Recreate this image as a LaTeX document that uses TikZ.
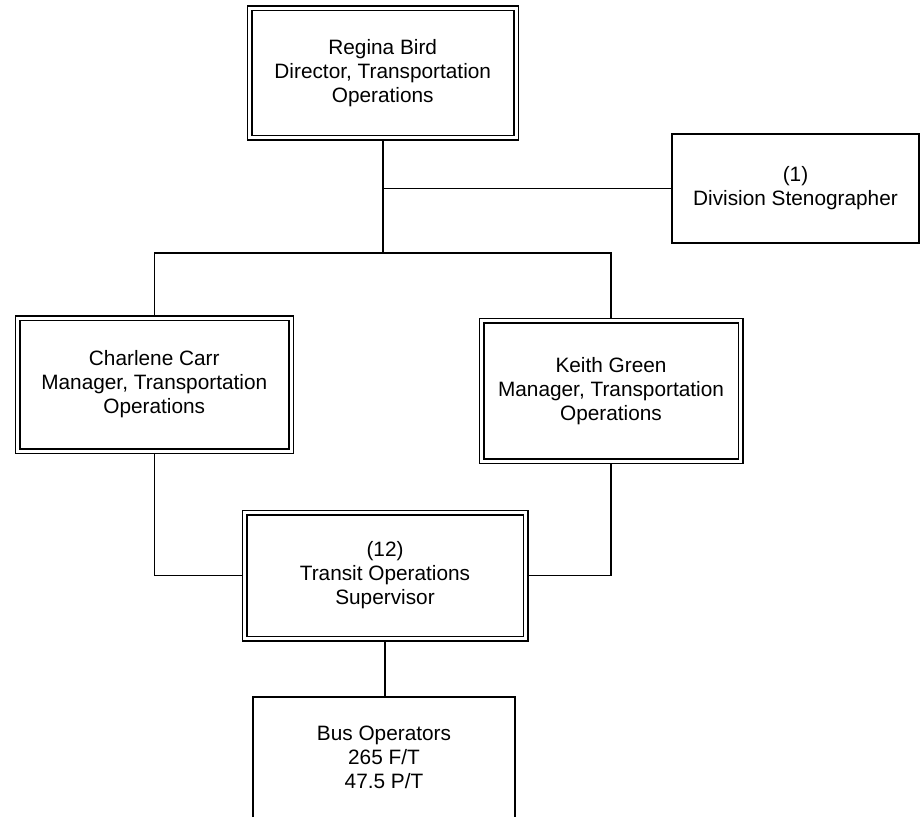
\documentclass[tikz,border=0pt]{standalone}
\usepackage{fontspec}
\setmainfont{Liberation Sans}
\usetikzlibrary{calc}
\begin{document}
\begin{tikzpicture}[x=1pt,y=-1pt,
  txt/.style={align=center,font=\fontsize{20.8}{24}\selectfont,inner sep=0pt},
  dbox/.style={txt,draw,double,double distance=3pt,line width=1.5pt,outer sep=3pt},
  sbox/.style={txt,draw,line width=1.5pt,outer sep=0.75pt},
  conn/.style={line width=1.5pt}]
\useasboundingbox (0,0) rectangle (921,817);
\node[dbox,minimum width=266.5pt,minimum height=129.5pt] (top) at (382.75,72.75)
  {Regina Bird\\Director, Transportation\\Operations};
\node[sbox,minimum width=247pt,minimum height=109pt] (steno) at (795.5,188.5)
  {(1)\\Division Stenographer};
\node[dbox,minimum width=273.5pt,minimum height=133pt] (charlene) at (154.25,384.5)
  {Charlene Carr\\Manager, Transportation\\Operations};
\node[dbox,minimum width=259pt,minimum height=140.5pt] (keith) at (611,390.75)
  {Keith Green\\Manager, Transportation\\Operations};
\node[dbox,minimum width=281pt,minimum height=126pt] (transit) at (385,575.5)
  {(12)\\Transit Operations\\Supervisor};
\node[txt,minimum width=262pt,minimum height=120pt,outer sep=0pt] (bus) at (384,757)
  {Bus Operators\\265 F/T\\47.5 P/T};
\draw[conn] (bus.south west) -- (bus.north west) -- (bus.north east) -- (bus.south east);
\path (top.south) ++(0,112.5) coordinate (jn);
\draw[conn] (top.south) -- (jn);
\draw[conn] (top.south |- steno.west) -- (steno.west);
\draw[conn] (charlene.north) -- (charlene.north |- jn) -- (keith.north |- jn) -- (keith.north);
\draw[conn] (charlene.south) |- (transit.west);
\draw[conn] (keith.south) |- (transit.east);
\draw[conn] (transit.south) -- (transit.south |- bus.north);
\end{tikzpicture}
\end{document}
